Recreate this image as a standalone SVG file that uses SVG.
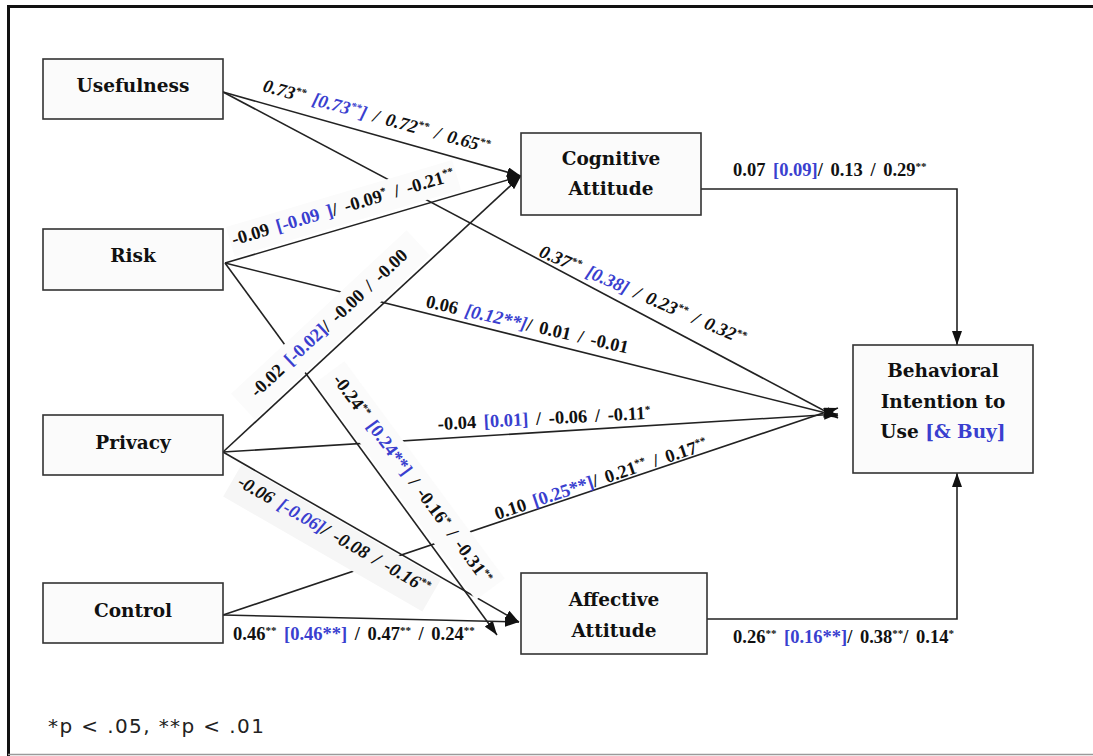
<svg xmlns="http://www.w3.org/2000/svg" width="1093" height="756" viewBox="0 0 1093 756">
  <defs>
    <marker id="arrow" markerUnits="userSpaceOnUse" markerWidth="14" markerHeight="10" refX="14" refY="5" orient="auto">
      <path d="M0,0 L14,5 L0,10 z" fill="#111"/>
    </marker>
    <style>
      .frame { stroke: #111; stroke-width: 3; fill: none; }
      .node rect { fill: #fbfbfb; stroke: #333; stroke-width: 1.6; }
      .node text { font-family: "DejaVu Serif", "Liberation Serif", serif; font-weight: bold; font-size: 18.5px; fill: #111; text-anchor: middle; }
      .edge { fill: none; stroke: #222; stroke-width: 1.6; marker-end: url(#arrow); }
      .band { fill: #fbfbfb; }
      .lbl { font-family: "Liberation Serif", "Times New Roman", serif; font-weight: bold; font-size: 18.5px; fill: #111; word-spacing: 3px; }
      .it { font-style: italic; }
      .mid { text-anchor: middle; }
      .blue { fill: #3a3fcf; }
      .s { font-size: 11px; baseline-shift: 6px; }
      .legend { font-family: "DejaVu Sans", "Verdana", sans-serif; font-size: 20px; fill: #222; letter-spacing: 1.4px; }
    </style>
  </defs>

  <rect width="1093" height="756" fill="#ffffff"/>

  <!-- outer frame -->
  <path class="frame" d="M1093,6.5 H8.5 V756"/>
  <line x1="8" y1="754.5" x2="1093" y2="754.5" stroke="#9a9a9a" stroke-width="1.5"/>

  <!-- connectors -->
  <g id="connectors">
    <path class="edge" d="M223,92 L521,176"/>
    <path class="edge" d="M225,263 L521,176"/>
    <path class="edge" d="M223,452 L521,176"/>
    <path class="edge" d="M223,92 L838,418"/>
    <path class="edge" d="M225,263 L838,416"/>
    <path class="edge" d="M223,452 L838,414"/>
    <path class="edge" d="M223,615 L838,408"/>
    <path class="edge" d="M225,263 L497,635"/>
    <path class="edge" d="M223,452 L519,622"/>
    <path class="edge" d="M223,615 L519,622"/>
    <path class="edge" d="M701,189 H957 V345"/>
    <path class="edge" d="M707,619 H957 V473"/>
  </g>

  <!-- label backgrounds -->
  <g id="label-bands">
    <rect class="band" transform="translate(343,207) rotate(-16.5)" x="-118" y="-14" width="236" height="31"/>
    <rect class="band" transform="translate(329,323) rotate(-43)" x="-120" y="-15" width="240" height="35"/>
    <rect class="band" transform="translate(394,492.5) rotate(53.6)" x="-135" y="-38" width="270" height="36"/>
    <rect class="band" transform="translate(342,520.7) rotate(30)" x="-115" y="1.5" width="230" height="37" style="fill:#f6f6f6"/>
  </g>

  <!-- path coefficients -->
  <g id="labels">
    <text class="lbl it" transform="translate(262,91) rotate(15.4)">0.73<tspan class="s">**</tspan> <tspan class="blue">[0.73<tspan class="s">**</tspan>]</tspan> / 0.72<tspan class="s">**</tspan> / 0.65<tspan class="s">**</tspan></text>

    <text class="lbl mid" transform="translate(343,207) rotate(-16.5)" y="6">-0.09 <tspan class="blue">[-0.09 ]</tspan>/ -0.09<tspan class="s">*</tspan> / -0.21<tspan class="s">**</tspan></text>

    <text class="lbl mid" transform="translate(329,323) rotate(-43)" y="6">-0.02 <tspan class="blue">[-0.02]</tspan>/ -0.00 / -0.00</text>

    <text class="lbl it" transform="translate(538,256) rotate(23.5)">0.37<tspan class="s">**</tspan> <tspan class="blue">[0.38]</tspan> / 0.23<tspan class="s">**</tspan> / 0.32<tspan class="s">**</tspan></text>

    <text class="lbl" transform="translate(425,307) rotate(13)">0.06 <tspan class="blue it">[0.12**]</tspan>/ 0.01 / -0.01</text>

    <text class="lbl mid" transform="translate(394,492.5) rotate(53.6)" y="-17">-0.24<tspan class="s">**</tspan> <tspan class="blue">[0.24**]</tspan> / -0.16<tspan class="s">*</tspan> / -0.31<tspan class="s">**</tspan></text>

    <text class="lbl" transform="translate(438,430) rotate(-3)">-0.04 <tspan class="blue">[0.01]</tspan> / -0.06 / -0.11<tspan class="s">*</tspan></text>

    <text class="lbl" transform="translate(497,520) rotate(-18.5)">0.10 <tspan class="blue">[0.25**]</tspan>/ 0.21<tspan class="s">**</tspan> / 0.17<tspan class="s">**</tspan></text>

    <text class="lbl mid it" transform="translate(342,520.7) rotate(30)" y="22">-0.06 <tspan class="blue">[-0.06]</tspan>/ -0.08 / -0.16<tspan class="s">**</tspan></text>

    <text class="lbl" x="233" y="640">0.46<tspan class="s">**</tspan> <tspan class="blue">[0.46**]</tspan> / 0.47<tspan class="s">**</tspan> / 0.24<tspan class="s">**</tspan></text>

    <text class="lbl" x="733" y="176">0.07 <tspan class="blue">[0.09]</tspan>/ 0.13 / 0.29<tspan class="s">**</tspan></text>

    <text class="lbl" x="733" y="643">0.26<tspan class="s">**</tspan> <tspan class="blue">[0.16**]</tspan>/ 0.38<tspan class="s">**</tspan>/ 0.14<tspan class="s">*</tspan></text>
  </g>

  <!-- constructs -->
  <g id="usefulness" class="node">
    <rect x="43" y="59" width="180" height="60"/>
    <text x="133" y="92">Usefulness</text>
  </g>
  <g id="risk" class="node">
    <rect x="43" y="229" width="180" height="61"/>
    <text x="133" y="262">Risk</text>
  </g>
  <g id="privacy" class="node">
    <rect x="43" y="415" width="180" height="60"/>
    <text x="133" y="449">Privacy</text>
  </g>
  <g id="control" class="node">
    <rect x="43" y="583" width="180" height="60"/>
    <text x="133" y="617">Control</text>
  </g>
  <g id="cognitive-attitude" class="node">
    <rect x="521" y="133" width="180" height="82"/>
    <text x="611" y="165">Cognitive</text>
    <text x="611" y="195">Attitude</text>
  </g>
  <g id="affective-attitude" class="node">
    <rect x="521" y="573" width="186" height="81"/>
    <text x="614" y="606">Affective</text>
    <text x="614" y="637">Attitude</text>
  </g>
  <g id="behavioral-intention" class="node">
    <rect x="853" y="345" width="180" height="128"/>
    <text x="943" y="377">Behavioral</text>
    <text x="943" y="408">Intention to</text>
    <text x="943" y="438">Use <tspan class="blue">[&amp; Buy]</tspan></text>
  </g>

  <text class="legend" x="48" y="733">*p &lt; .05, **p &lt; .01</text>
</svg>
